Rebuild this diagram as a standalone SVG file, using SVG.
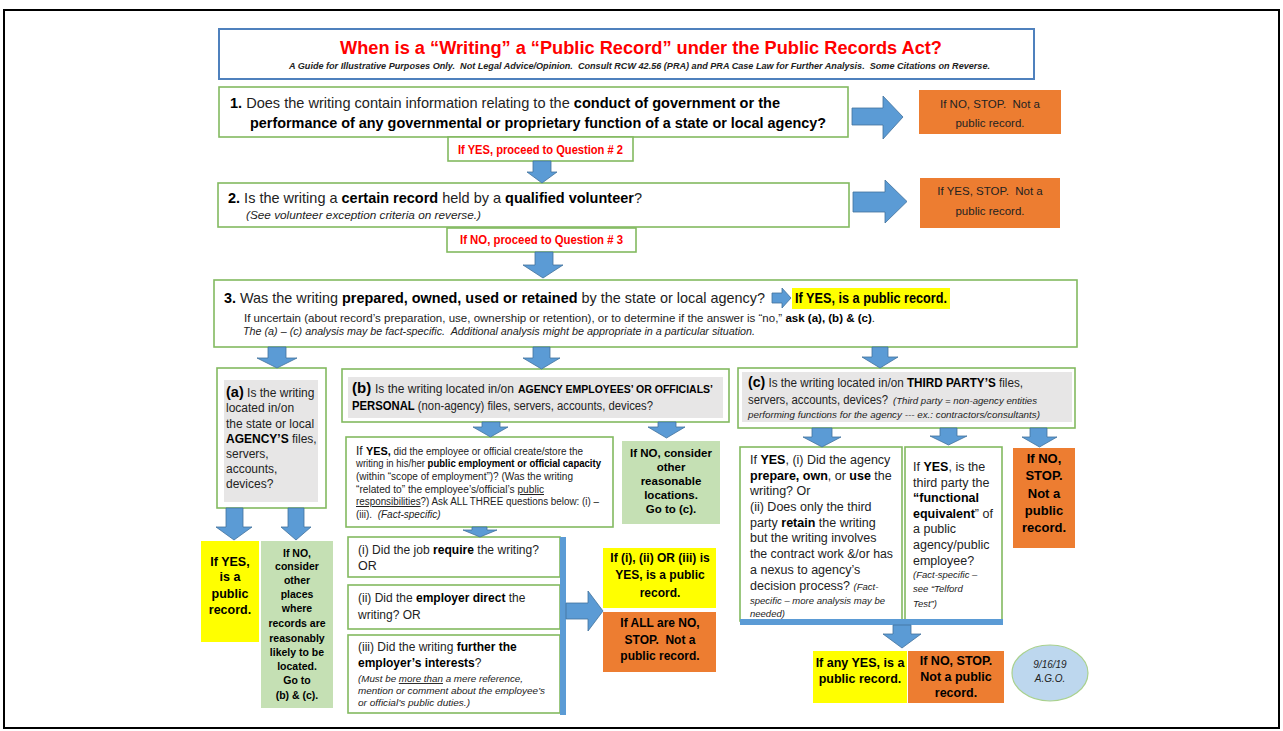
<svg xmlns="http://www.w3.org/2000/svg" width="1283" height="731" viewBox="0 0 1283 731">
<style>
text{font-family:"Liberation Sans",Arial,sans-serif;fill:#222}
.b{font-weight:bold;fill:#000}
.i{font-style:italic}
.gb{fill:#fff;stroke:#83BA60;stroke-width:1.6}
.gray{fill:#E7E6E6}
.or{fill:#ED7D31}
.ye{fill:#FFFF00}
.gf{fill:#C5E0B4}
.ar{fill:#5B9BD5;stroke:#41719C;stroke-width:0.8}
.bar{fill:#5B9BD5}
.red{fill:#FF0000;font-weight:bold}
.c{text-anchor:middle}
.u{text-decoration:underline}
</style>
<rect x="0" y="0" width="1283" height="731" fill="#fff"/>
<rect x="4" y="10" width="1275" height="718" fill="none" stroke="#000" stroke-width="2"/>

<g id="title">
<rect x="219" y="29" width="815" height="50" fill="#fff" stroke="#4F81BD" stroke-width="2"/>
<text x="641" y="54" class="c red" font-size="18" textLength="602" lengthAdjust="spacingAndGlyphs">When is a “Writing” a “Public Record” under the Public Records Act?</text>
<text x="639.5" y="69" class="c i" font-size="8.5" font-weight="bold" textLength="701" lengthAdjust="spacingAndGlyphs" fill="#111">A Guide for Illustrative Purposes Only.&#160; Not Legal Advice/Opinion.&#160; Consult RCW 42.56 (PRA) and PRA Case Law for Further Analysis.&#160; Some Citations on Reverse.</text>
</g>

<g id="q1">
<rect class="gb" x="219" y="87" width="629" height="50"/>
<text x="230" y="108" font-size="14.5" textLength="550" lengthAdjust="spacingAndGlyphs"><tspan class="b">1.</tspan> Does the writing contain information relating to the <tspan class="b">conduct of government or the</tspan></text>
<text x="250" y="128" font-size="14.5" class="b" textLength="576" lengthAdjust="spacingAndGlyphs">performance of any governmental or proprietary function of a state or local agency?</text>
</g>
<g id="q1-yes">
<rect class="gb" x="448" y="137" width="185" height="24"/>
<text x="540.5" y="154" class="c red" font-size="12" textLength="165" lengthAdjust="spacingAndGlyphs">If YES, proceed to Question # 2</text>
</g>
<g id="q1-no">
<rect class="or" x="919" y="90" width="142" height="44"/>
<text x="990" y="108" class="c" font-size="11.5">If NO, STOP.&#160; Not a</text>
<text x="990" y="127" class="c" font-size="11.5">public record.</text>
</g>

<g id="q2">
<rect class="gb" x="218" y="183" width="631" height="44"/>
<text x="228" y="203" font-size="14.5" textLength="414" lengthAdjust="spacingAndGlyphs"><tspan class="b">2.</tspan> Is the writing a <tspan class="b">certain record</tspan> held by a <tspan class="b">qualified volunteer</tspan>?</text>
<text x="246" y="219" class="i" font-size="11" textLength="235" lengthAdjust="spacingAndGlyphs">(See volunteer exception criteria on reverse.)</text>
</g>
<g id="q2-no">
<rect class="gb" x="447" y="228" width="189" height="24"/>
<text x="541.5" y="244" class="c red" font-size="12" textLength="163" lengthAdjust="spacingAndGlyphs">If NO, proceed to Question # 3</text>
</g>
<g id="q2-yes">
<rect class="or" x="920" y="178" width="140" height="50"/>
<text x="990" y="195" class="c" font-size="11.5">If YES, STOP.&#160; Not a</text>
<text x="990" y="215" class="c" font-size="11.5">public record.</text>
</g>

<g id="q3">
<rect class="gb" x="214" y="280" width="863" height="67"/>
<text x="224" y="303" font-size="15" textLength="541" lengthAdjust="spacingAndGlyphs"><tspan class="b">3.</tspan> Was the writing <tspan class="b">prepared, owned, used or retained</tspan> by the state or local agency?</text>
<rect class="ye" x="792" y="288" width="158" height="21"/>
<text x="795" y="303" class="b" font-size="14" textLength="152" lengthAdjust="spacingAndGlyphs">If YES, is a public record.</text>
<text x="244" y="322" font-size="11" textLength="631" lengthAdjust="spacingAndGlyphs">If uncertain (about record’s preparation, use, ownership or retention), or to determine if the answer is “no,” <tspan class="b">ask (a), (b) &amp; (c)</tspan>.</text>
<text x="243" y="335" class="i" font-size="10.5" textLength="512" lengthAdjust="spacingAndGlyphs">The (a) – (c) analysis may be fact-specific.&#160; Additional analysis might be appropriate in a particular situation.</text>
</g>

<g id="a">
<rect class="gb" x="217" y="368" width="109" height="140"/>
<rect class="gray" x="224" y="380" width="94" height="122"/>
<text x="226" y="397" font-size="12"><tspan class="b" font-size="14.5">(a)</tspan> Is the writing</text>
<text x="226" y="412" font-size="12">located in/on</text>
<text x="226" y="428" font-size="12">the state or local</text>
<text x="226" y="443" font-size="12"><tspan class="b">AGENCY’S</tspan> files,</text>
<text x="226" y="458" font-size="12">servers,</text>
<text x="226" y="473" font-size="12">accounts,</text>
<text x="226" y="488" font-size="12">devices?</text>
</g>
<g id="a-yes">
<rect class="ye" x="201" y="541" width="58" height="101"/>
<text x="230" y="566" class="c b" font-size="12.5">If YES,</text>
<text x="230" y="581" class="c b" font-size="12.5">is a</text>
<text x="230" y="598" class="c b" font-size="12.5">public</text>
<text x="230" y="614" class="c b" font-size="12.5">record.</text>
</g>
<g id="a-no">
<rect class="gf" x="261" y="541" width="72" height="167"/>
<text x="297" y="557" class="c b" font-size="10.5">If NO,</text>
<text x="297" y="570" class="c b" font-size="10.5">consider</text>
<text x="297" y="584" class="c b" font-size="10.5">other</text>
<text x="297" y="598" class="c b" font-size="10.5">places</text>
<text x="297" y="612" class="c b" font-size="10.5">where</text>
<text x="297" y="627" class="c b" font-size="10.5">records are</text>
<text x="297" y="642" class="c b" font-size="10.5">reasonably</text>
<text x="297" y="656" class="c b" font-size="10.5">likely to be</text>
<text x="297" y="670" class="c b" font-size="10.5">located.</text>
<text x="297" y="684" class="c b" font-size="10.5">Go to</text>
<text x="297" y="699" class="c b" font-size="10.5">(b) &amp; (c).</text>
</g>

<g id="b">
<rect class="gb" x="342" y="369" width="387" height="53"/>
<rect class="gray" x="348" y="377" width="375" height="41"/>
<text x="352" y="393" class="b" font-size="15">(b)</text>
<text x="375" y="393" font-size="12.5" textLength="139" lengthAdjust="spacingAndGlyphs">Is the writing located in/on</text>
<text x="518" y="393" class="b" font-size="11.5" textLength="195" lengthAdjust="spacingAndGlyphs">AGENCY EMPLOYEES’ OR OFFICIALS’</text>
<text x="352" y="410" font-size="12.5" textLength="301" lengthAdjust="spacingAndGlyphs"><tspan class="b">PERSONAL</tspan> (non-agency) files, servers, accounts, devices?</text>
</g>
<g id="b-yes">
<rect class="gb" x="346" y="437" width="267" height="90"/>
<text x="356" y="455" font-size="10" textLength="227" lengthAdjust="spacingAndGlyphs"><tspan font-size="12">If </tspan><tspan class="b" font-size="11">YES,</tspan> did the employee or official create/store the</text>
<text x="356" y="467" font-size="10" textLength="245" lengthAdjust="spacingAndGlyphs">writing in his/her <tspan class="b">public employment or official capacity</tspan></text>
<text x="356" y="480" font-size="10" textLength="217" lengthAdjust="spacingAndGlyphs">(within “scope of employment”)? (Was the writing</text>
<text x="356" y="493" font-size="10" textLength="188" lengthAdjust="spacingAndGlyphs">“related to” the employee’s/official’s <tspan class="u">public</tspan></text>
<text x="356" y="505" font-size="10" textLength="243" lengthAdjust="spacingAndGlyphs"><tspan class="u">responsibilities</tspan>?) Ask ALL THREE questions below: (i) –</text>
<text x="356" y="518" font-size="10">(iii).&#160; <tspan class="i">(Fact-specific)</tspan></text>
</g>
<g id="b-no">
<rect class="gf" x="622" y="441" width="98" height="83"/>
<text x="671" y="457" class="c b" font-size="11.5">If NO, consider</text>
<text x="671" y="471" class="c b" font-size="11.5">other</text>
<text x="671" y="485" class="c b" font-size="11.5">reasonable</text>
<text x="671" y="499" class="c b" font-size="11.5">locations.</text>
<text x="671" y="513" class="c b" font-size="11.5">Go to (c).</text>
</g>
<g id="b-i">
<rect class="gb" x="348" y="537" width="212" height="40"/>
<text x="358" y="554" font-size="12.5" textLength="181" lengthAdjust="spacingAndGlyphs">(i) Did the job <tspan class="b">require</tspan> the writing?</text>
<text x="358" y="570" font-size="12.5">OR</text>
</g>
<g id="b-ii">
<rect class="gb" x="348" y="585" width="212" height="44"/>
<text x="358" y="602" font-size="12"><tspan>(ii) Did the </tspan><tspan class="b">employer direct</tspan><tspan> the</tspan></text>
<text x="358" y="619" font-size="12">writing? OR</text>
</g>
<g id="b-iii">
<rect class="gb" x="348" y="635" width="212" height="78"/>
<text x="358" y="651" font-size="12"><tspan>(iii) Did the writing </tspan><tspan class="b">further the</tspan></text>
<text x="358" y="667" font-size="12"><tspan class="b">employer’s interests</tspan><tspan>?</tspan></text>
<text x="358" y="682" class="i" font-size="9.5" textLength="165" lengthAdjust="spacingAndGlyphs">(Must be <tspan class="u">more than</tspan> a mere reference,</text>
<text x="358" y="694" class="i" font-size="9.5" textLength="187" lengthAdjust="spacingAndGlyphs">mention or comment about the employee’s</text>
<text x="358" y="706" class="i" font-size="9.5" textLength="112" lengthAdjust="spacingAndGlyphs">or official’s public duties.)</text>
</g>
<g id="b-result-yes">
<rect class="ye" x="603" y="548" width="113" height="60"/>
<text x="660" y="562" class="c b" font-size="12">If (i), (ii) OR (iii) is</text>
<text x="660" y="579" class="c b" font-size="12">YES, is a public</text>
<text x="660" y="597" class="c b" font-size="12">record.</text>
</g>
<g id="b-result-no">
<rect class="or" x="603" y="612" width="113" height="60"/>
<text x="660" y="627" class="c b" font-size="12">If ALL are NO,</text>
<text x="660" y="644" class="c b" font-size="12">STOP.&#160; Not a</text>
<text x="660" y="660" class="c b" font-size="12">public record.</text>
</g>

<g id="c">
<rect class="gb" x="738" y="368" width="337" height="60"/>
<rect class="gray" x="742" y="372" width="330" height="50"/>
<text x="748" y="387" font-size="12" textLength="275" lengthAdjust="spacingAndGlyphs"><tspan class="b" font-size="14.5">(c)</tspan> Is the writing located in/on <tspan class="b">THIRD PARTY’S</tspan> files,</text>
<text x="748" y="404" font-size="12" textLength="140" lengthAdjust="spacingAndGlyphs">servers, accounts, devices?</text>
<text x="893" y="404" class="i" font-size="9" textLength="144" lengthAdjust="spacingAndGlyphs">(Third party = non-agency entities</text>
<text x="748" y="418" class="i" font-size="9" textLength="292" lengthAdjust="spacingAndGlyphs">performing functions for the agency --- ex.: contractors/consultants)</text>
</g>
<g id="c-yes1">
<rect class="gb" x="740" y="447" width="162" height="174"/>
<text x="750" y="464" font-size="12.5">If <tspan class="b">YES</tspan>, (i) Did the agency</text>
<text x="750" y="480" font-size="12.5"><tspan class="b">prepare, own</tspan>, or <tspan class="b">use</tspan> the</text>
<text x="750" y="495" font-size="12.5">writing? Or</text>
<text x="750" y="511" font-size="12.5">(ii) Does only the third</text>
<text x="750" y="527" font-size="12.5">party <tspan class="b">retain</tspan> the writing</text>
<text x="750" y="542" font-size="12.5">but the writing involves</text>
<text x="750" y="558" font-size="12.5" textLength="143" lengthAdjust="spacingAndGlyphs">the contract work &amp;/or has</text>
<text x="750" y="574" font-size="12.5">a nexus to agency’s</text>
<text x="750" y="590" font-size="12.5">decision process? <tspan class="i" font-size="9.5">(Fact-</tspan></text>
<text x="750" y="604" class="i" font-size="9.5" textLength="135" lengthAdjust="spacingAndGlyphs">specific – more analysis may be</text>
<text x="750" y="617" class="i" font-size="9.5">needed)</text>
</g>
<g id="c-yes2">
<rect class="gb" x="905" y="447" width="97" height="174"/>
<text x="913" y="471" font-size="12.5">If <tspan class="b">YES</tspan>, is the</text>
<text x="913" y="487" font-size="12.5">third party the</text>
<text x="913" y="502" font-size="12.5" class="b">“functional</text>
<text x="913" y="518" font-size="12.5"><tspan class="b">equivalent</tspan>” of</text>
<text x="913" y="533" font-size="12.5">a public</text>
<text x="913" y="549" font-size="12.5">agency/public</text>
<text x="913" y="565" font-size="12.5">employee?</text>
<text x="913" y="578" class="i" font-size="9.5">(Fact-specific –</text>
<text x="913" y="592" class="i" font-size="9.5">see “Telford</text>
<text x="913" y="607" class="i" font-size="9.5">Test”)</text>
</g>
<g id="c-no">
<rect class="or" x="1013" y="448" width="62" height="100"/>
<text x="1044" y="463" class="c b" font-size="13">If NO,</text>
<text x="1044" y="480" class="c b" font-size="13">STOP.</text>
<text x="1044" y="498" class="c b" font-size="13">Not a</text>
<text x="1044" y="515" class="c b" font-size="13">public</text>
<text x="1044" y="532" class="c b" font-size="13">record.</text>
</g>
<g id="c-result-yes">
<rect class="ye" x="813" y="651" width="94" height="52"/>
<text x="860" y="667" class="c b" font-size="12.5">If any YES, is a</text>
<text x="860" y="683" class="c b" font-size="12.5">public record.</text>
</g>
<g id="c-result-no">
<rect class="or" x="908" y="651" width="96" height="52"/>
<text x="956" y="665" class="c b" font-size="12.5">If NO, STOP.</text>
<text x="956" y="681" class="c b" font-size="12.5">Not a public</text>
<text x="956" y="697" class="c b" font-size="12.5">record.</text>
</g>
<g id="date">
<ellipse cx="1050" cy="673" rx="38" ry="28" fill="#BDD7EE" stroke="#A9D18E" stroke-width="1.2"/>
<text x="1050" y="668" class="c i" font-size="10" fill="#404040">9/16/19</text>
<text x="1050" y="682" class="c i" font-size="10" fill="#404040">A.G.O.</text>
</g>

<g id="connectors">
<polygon class="ar" points="533,161 551,161 551,172 557,172 542,183 527,172 533,172"/>
<polygon class="ar" points="535,252 553,252 553,265 563,265 543,278 523,265 535,265"/>
<polygon class="ar" points="852,108 883,108 883,96 903,117 883,139 883,125 852,125"/>
<polygon class="ar" points="853,192 885,192 885,180 907,201.5 885,223 885,212 853,212"/>
<polygon class="ar" points="772,293 782,293 782,288 791,298 782,308 782,303 772,303"/>
<polygon class="ar" points="268,347 286,347 286,358 297,358 277,368 257,358 268,358"/>
<polygon class="ar" points="533,347 550,347 550,358 560,358 541.5,369 523,358 533,358"/>
<polygon class="ar" points="872,347 888,347 888,357 898,357 880,368 862,357 872,357"/>
<polygon class="ar" points="226,508 243,508 243,527 252,527 234,540 216,527 226,527"/>
<polygon class="ar" points="288,508 304,508 304,527 311,527 296,540 281,527 288,527"/>
<polygon class="ar" points="482,422 500,422 500,427 508,427 490.5,437 473,427 482,427"/>
<polygon class="ar" points="658,422 676,422 676,427 685,427 666.5,438 648,427 658,427"/>
<polygon class="ar" points="472,527 487,527 487,530 497,530 480,537 463,530 472,530"/>
<rect class="bar" x="560" y="537" width="6" height="178"/>
<polygon class="ar" points="566,603 588,603 588,591 603,611 588,631 588,619 566,619"/>
<polygon class="ar" points="812,428 832,428 832,437 841,437 822,447 803,437 812,437"/>
<polygon class="ar" points="940,428 957,428 957,436 967,436 948.5,445 930,436 940,436"/>
<polygon class="ar" points="1030,428 1047,428 1047,437 1057,437 1039.5,447 1022,437 1030,437"/>
<rect class="bar" x="740" y="619" width="263" height="6"/>
<polygon class="ar" points="893,625 911,625 911,634 921,634 902,648 883,634 893,634"/>
</g>
</svg>
